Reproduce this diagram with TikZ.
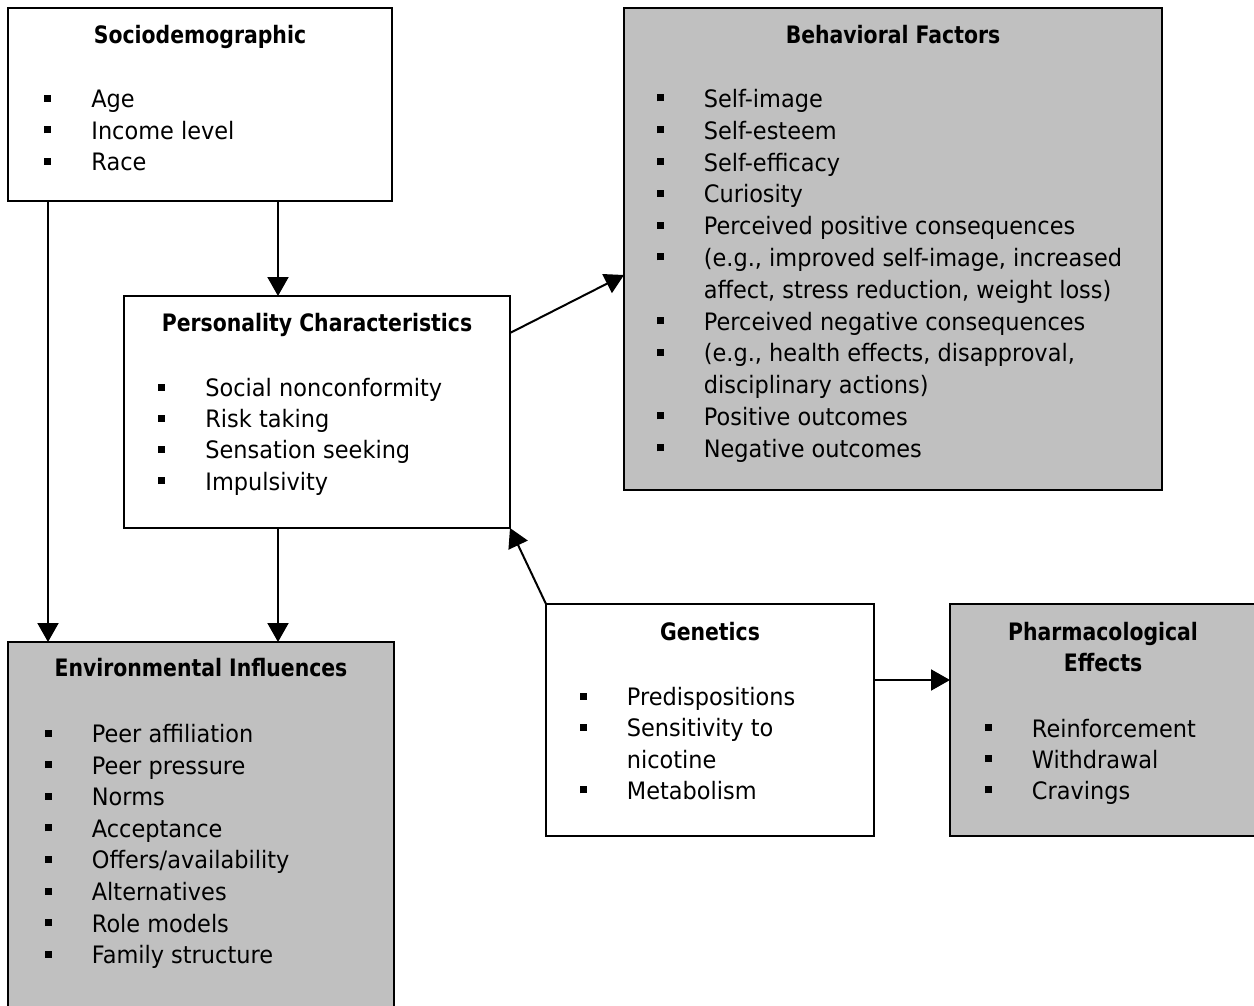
\documentclass[tikz,border=0pt]{standalone}
\usepackage{fontspec}
\setmainfont{DejaVu Sans}[FakeStretch=0.935]
\newfontfamily\ttlfont{DejaVu Sans}[FakeStretch=0.85]
\usetikzlibrary{arrows.meta}
\definecolor{boxgray}{HTML}{C0C0C0}
\newcommand\bl[1]{\hbox{\makebox[23.5pt][l]{\rule[3pt]{3.5pt}{3.5pt}}#1}}
\newcommand\cl[1]{\hbox{\hspace*{23.5pt}#1}}
\begin{document}
\begin{tikzpicture}[x=0.5pt,y=-0.5pt,
  box/.style={draw,line width=1pt,inner sep=0pt,outer sep=0pt,anchor=north west},
  graybox/.style={box,fill=boxgray},
  ttl/.style={anchor=base,inner sep=0pt,font=\fontsize{12}{14}\ttlfont\bfseries},
  lst/.style={anchor=base west,inner sep=0pt,font=\fontsize{12}{14}\selectfont},
  arr/.style={line width=1pt,-{Triangle[length=9.5pt,width=10.5pt]}}]
\useasboundingbox (0,0) rectangle (1254,1006);
\fill[white] (0,0) rectangle (1254,1006);
% boxes
\node[box,minimum width=192pt,minimum height=96.5pt] (soc) at (8,8) {};
\node[box,minimum width=193pt,minimum height=116pt] (per) at (124,296) {};
\node[graybox,minimum width=269pt,minimum height=241pt] (beh) at (624,8) {};
\node[graybox,minimum width=193pt,minimum height=190pt] (env) at (8,642) {};
\node[box,minimum width=164pt,minimum height=116pt] (gen) at (546,604) {};
\node[graybox,minimum width=156pt,minimum height=116pt] (pha) at (950,604) {};
% titles
\node[ttl] (socT) at (200,44) {Sociodemographic};
\node[ttl] (perT) at (317,331) {Personality Characteristics};
\node[ttl] (behT) at (893,44) {Behavioral Factors};
\node[ttl] (envT) at (201,676) {Environmental Influences};
\node[ttl] (genT) at (710,640) {Genetics};
\node[ttl] (phaT) at (1103,640) {\vtop{\baselineskip=15.5pt\halign{\hfil#\hfil\cr Pharmacological\cr Effects\cr}}};
% lists
\node[lst] (socL) at (44,108) {\vtop{\baselineskip=15.75pt
  \bl{Age}\bl{Income level}\bl{Race}}};
\node[lst] (perL) at (158,396.5) {\vtop{\baselineskip=15.6pt
  \bl{Social nonconformity}\bl{Risk taking}\bl{Sensation seeking}\bl{Impulsivity}}};
\node[lst] (behL) at (656.5,107.5) {\vtop{\baselineskip=15.9pt
  \bl{Self-image}\bl{Self-esteem}\bl{Self-efficacy}\bl{Curiosity}
  \bl{Perceived positive consequences}
  \bl{(e.g., improved self-image, increased}
  \cl{affect, stress reduction, weight loss)}
  \bl{Perceived negative consequences}
  \bl{(e.g., health effects, disapproval,}
  \cl{disciplinary actions)}
  \bl{Positive outcomes}\bl{Negative outcomes}}};
\node[lst] (envL) at (44.5,742.5) {\vtop{\baselineskip=15.8pt
  \bl{Peer affiliation}\bl{Peer pressure}\bl{Norms}\bl{Acceptance}
  \bl{Offers/availability}\bl{Alternatives}\bl{Role models}\bl{Family structure}}};
\node[lst] (genL) at (579.5,705.5) {\vtop{\baselineskip=15.65pt
  \bl{Predispositions}\bl{Sensitivity to}\cl{nicotine}\bl{Metabolism}}};
\node[lst] (phaL) at (984.5,737) {\vtop{\baselineskip=15.6pt
  \bl{Reinforcement}\bl{Withdrawal}\bl{Cravings}}};
% connectors
\draw[arr] ([xshift=135pt]soc.south west) -- ([xshift=77pt]per.north west);
\draw[arr] ([xshift=20pt]soc.south west) -- ([xshift=20pt]env.north west);
\draw[arr] ([xshift=77pt]per.south west) -- ([xshift=135pt]env.north west);
\draw[arr] ([yshift=-18.5pt]per.north east) -- ([yshift=-133.5pt]beh.north west);
\draw[arr] (gen.north west) -- (per.south east);
\draw[arr] ([yshift=-38pt]gen.north east) -- ([yshift=-38pt]pha.north west);
\end{tikzpicture}
\end{document}
